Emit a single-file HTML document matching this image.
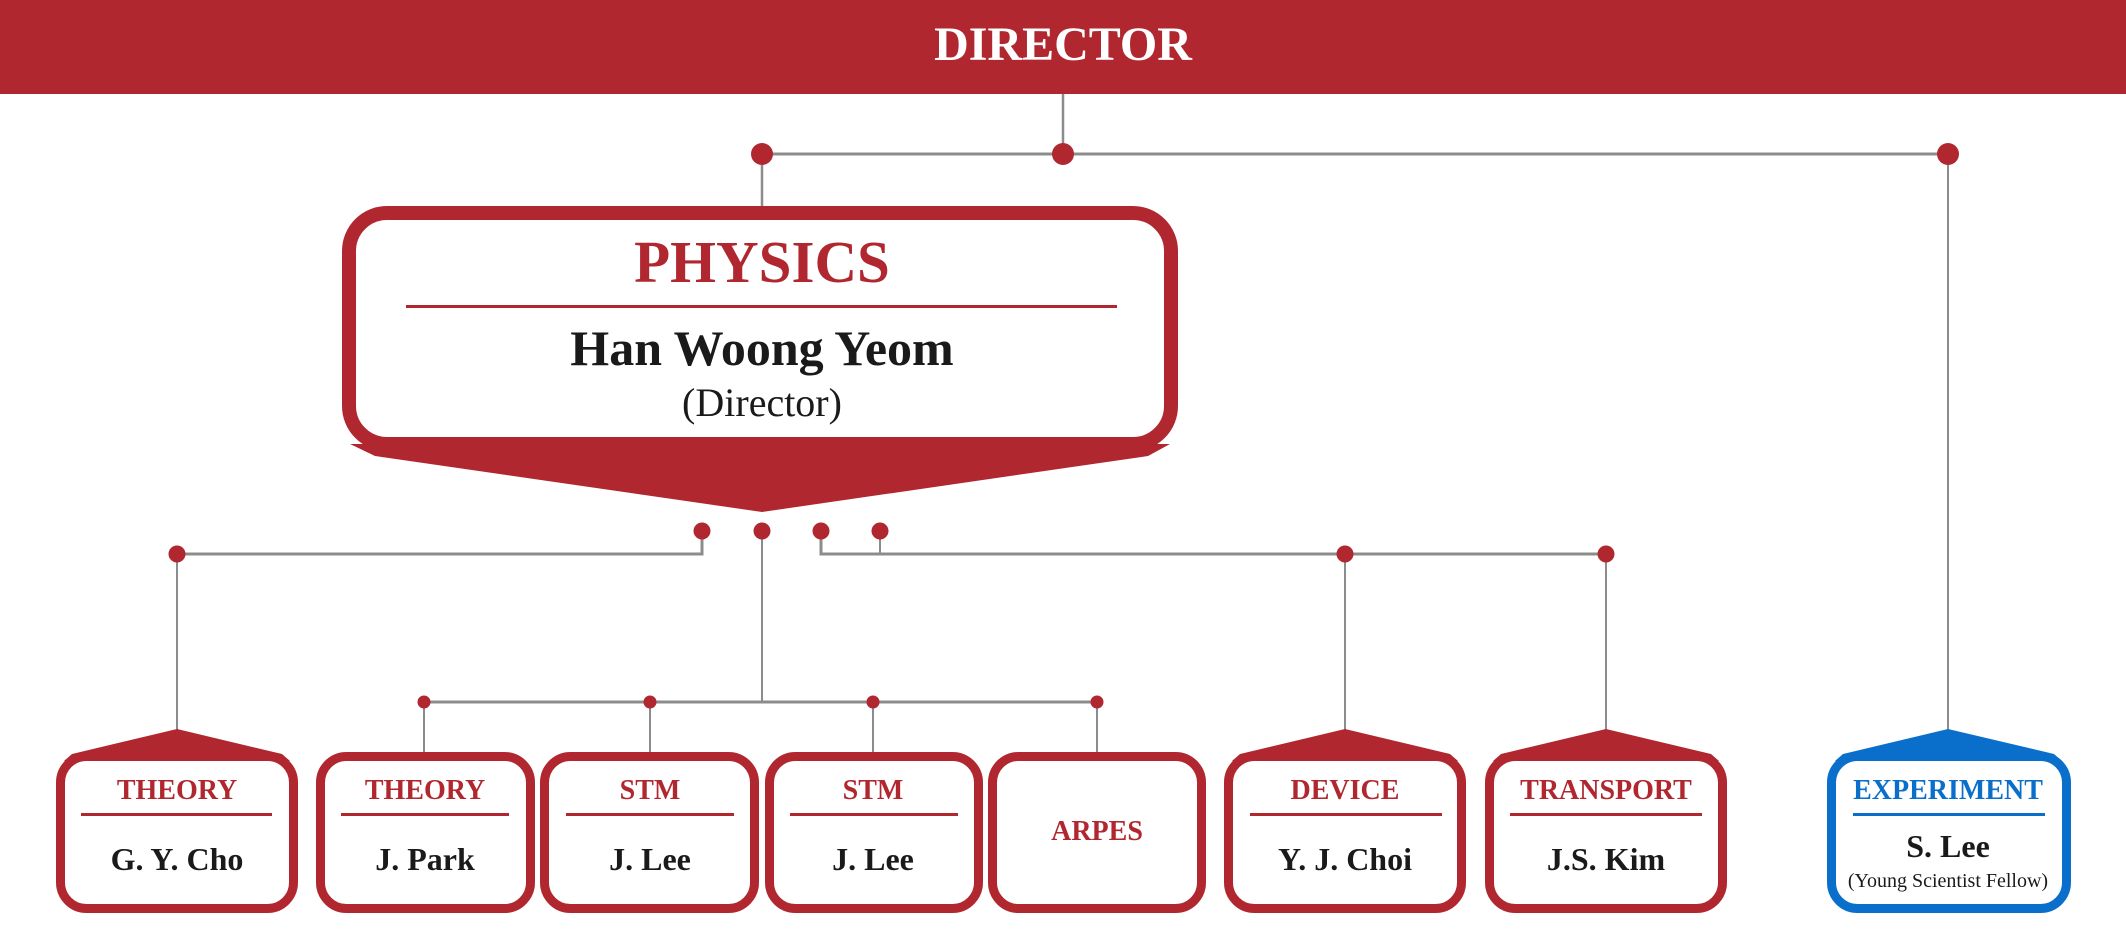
<!DOCTYPE html>
<html><head><meta charset="utf-8"><style>
html,body{margin:0;padding:0;background:#fff}
svg{display:block}
text{font-family:"Liberation Serif",serif;text-anchor:middle}
.h{font-weight:bold;font-size:28px}
.n{font-weight:bold;font-size:32px;fill:#1a1a1a}
</style></head><body>
<svg width="2126" height="945" viewBox="0 0 2126 945" xmlns="http://www.w3.org/2000/svg">
<rect x="0" y="0" width="2126" height="94" fill="#b1272f"/>
<text x="1063" y="60" fill="#fff" font-weight="bold" font-size="48">DIRECTOR</text>
<g stroke="#8c8c8c" fill="none">
<line x1="1063" y1="94" x2="1063" y2="154" stroke-width="2.5"/>
<line x1="762" y1="154" x2="1948" y2="154" stroke-width="3"/>
<line x1="762" y1="154" x2="762" y2="210" stroke-width="2.5"/>
<line x1="1948" y1="154" x2="1948" y2="732" stroke-width="2"/>
<polyline points="177,554 702,554 702,532" stroke-width="3"/>
<line x1="177" y1="554" x2="177" y2="732" stroke-width="2"/>
<polyline points="821,532 821,554 1606,554" stroke-width="3"/>
<line x1="880" y1="532" x2="880" y2="554" stroke-width="2"/>
<line x1="1345" y1="554" x2="1345" y2="732" stroke-width="2"/>
<line x1="1606" y1="554" x2="1606" y2="732" stroke-width="2"/>
<line x1="762" y1="532" x2="762" y2="702" stroke-width="2"/>
<line x1="424" y1="702" x2="1097" y2="702" stroke-width="3"/>
<line x1="424" y1="702" x2="424" y2="756" stroke-width="2"/>
<line x1="650" y1="702" x2="650" y2="756" stroke-width="2"/>
<line x1="873" y1="702" x2="873" y2="756" stroke-width="2"/>
<line x1="1097" y1="702" x2="1097" y2="756" stroke-width="2"/>
</g>
<g fill="#b1272f">
<circle cx="762" cy="154" r="11"/><circle cx="1063" cy="154" r="11"/><circle cx="1948" cy="154" r="11"/>
<circle cx="702" cy="531" r="8.5"/><circle cx="762" cy="531" r="8.5"/><circle cx="821" cy="531" r="8.5"/><circle cx="880" cy="531" r="8.5"/>
<circle cx="177" cy="554" r="8.5"/><circle cx="1345" cy="554" r="8.5"/><circle cx="1606" cy="554" r="8.5"/>
<circle cx="424" cy="702" r="6.5"/><circle cx="650" cy="702" r="6.5"/><circle cx="873" cy="702" r="6.5"/><circle cx="1097" cy="702" r="6.5"/>
</g>
<!-- Physics box -->
<polygon points="350,444 1170,444 1148,456 762,512 375,456" fill="#b1272f"/>
<rect x="349" y="213" width="822" height="231" rx="38" fill="#fff" stroke="#b1272f" stroke-width="14"/>
<text x="762" y="282" fill="#b1272f" font-weight="bold" font-size="59">PHYSICS</text>
<rect x="406" y="305" width="711" height="3" fill="#b1272f"/>
<text x="762" y="365" fill="#1a1a1a" font-weight="bold" font-size="50">Han Woong Yeom</text>
<text x="762" y="416" fill="#1a1a1a" font-size="40">(Director)</text>

<!-- bottom boxes -->
<g stroke-width="9" fill="#fff">
<rect x="60.5" y="756.5" width="233" height="152" rx="26" stroke="#b1272f"/>
<polygon points="72,754 177,729 282,754 290,761 64,761" fill="#b1272f"/>
<rect x="320.5" y="756.5" width="210" height="152" rx="26" stroke="#b1272f"/>
<rect x="544.5" y="756.5" width="210" height="152" rx="26" stroke="#b1272f"/>
<rect x="769.5" y="756.5" width="209" height="152" rx="26" stroke="#b1272f"/>
<rect x="992.5" y="756.5" width="209" height="152" rx="26" stroke="#b1272f"/>
<rect x="1228.5" y="756.5" width="233" height="152" rx="26" stroke="#b1272f"/>
<polygon points="1240,754 1345,729 1450,754 1458,761 1232,761" fill="#b1272f"/>
<rect x="1489.5" y="756.5" width="233" height="152" rx="26" stroke="#b1272f"/>
<polygon points="1501,754 1606,729 1711,754 1719,761 1493,761" fill="#b1272f"/>
<rect x="1831.5" y="756.5" width="235" height="152" rx="26" stroke="#0a6fca"/>
<polygon points="1843,754 1948,729 2054,754 2062,761 1835,761" fill="#0a6fca"/>
</g>
<g fill="#b1272f">
<text class="h" x="177" y="799">THEORY</text><rect x="81" y="813" width="191" height="3"/>
<text class="h" x="425" y="799">THEORY</text><rect x="341" y="813" width="168" height="3"/>
<text class="h" x="650" y="799">STM</text><rect x="566" y="813" width="168" height="3"/>
<text class="h" x="873" y="799">STM</text><rect x="790" y="813" width="168" height="3"/>
<text class="h" x="1097" y="840">ARPES</text>
<text class="h" x="1345" y="799">DEVICE</text><rect x="1250" y="813" width="192" height="3"/>
<text class="h" x="1606" y="799">TRANSPORT</text><rect x="1510" y="813" width="192" height="3"/>
</g>
<text class="h" x="1948" y="799" fill="#0a6fca">EXPERIMENT</text><rect x="1853" y="813" width="192" height="3" fill="#0a6fca"/>
<text class="n" x="177" y="870">G. Y. Cho</text>
<text class="n" x="425" y="870">J. Park</text>
<text class="n" x="650" y="870">J. Lee</text>
<text class="n" x="873" y="870">J. Lee</text>
<text class="n" x="1345" y="870">Y. J. Choi</text>
<text class="n" x="1606" y="870">J.S. Kim</text>
<text class="n" x="1948" y="857">S. Lee</text>
<text x="1948" y="887" fill="#1a1a1a" font-size="20">(Young Scientist Fellow)</text>
</svg>
</body></html>
